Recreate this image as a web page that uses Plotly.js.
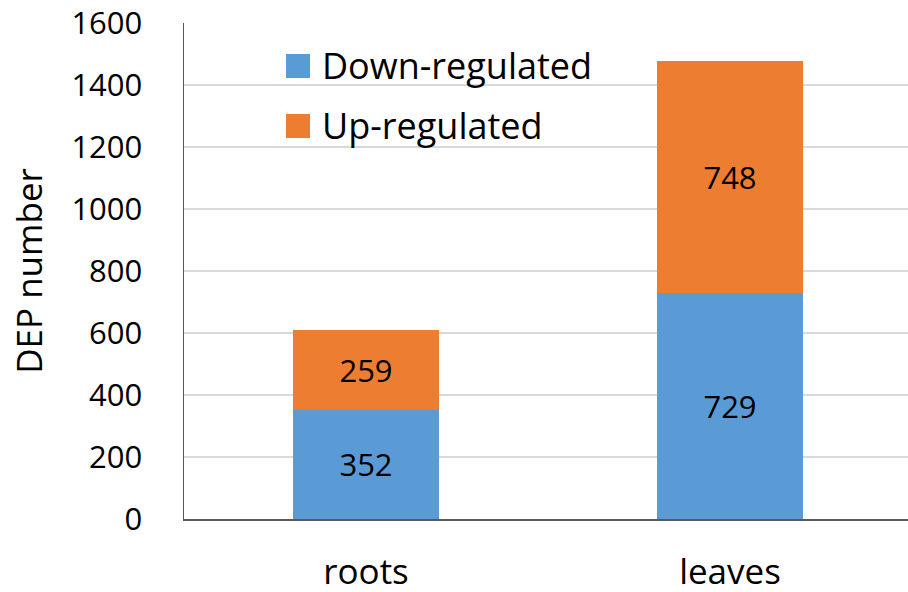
<!DOCTYPE html>
<html>
<head>
<meta charset="utf-8">
<script src="https://cdn.plot.ly/plotly-3.0.1.min.js"></script>
<style>html,body{margin:0;padding:0;background:#fff;}#chart{width:908px;height:592px;}</style>
</head>
<body>
<div id="chart"></div>
<script>
const categories = ["roots", "leaves"];
const downValues = [352, 729];
const upValues = [259, 748];
const seriesNames = ["Down-regulated", "Up-regulated"];
const seriesColors = ["#5B9BD5", "#ED7D31"];
const yTicks = [0, 200, 400, 600, 800, 1000, 1200, 1400, 1600];

const FONT = "Open Sans, sans-serif";

const traces = [downValues, upValues].map((vals, i) => ({
  type: "bar",
  name: seriesNames[i],
  x: categories,
  y: vals,
  width: 0.4,
  marker: {color: seriesColors[i], line: {width: 0}},
  text: vals.map(String),
  textposition: "inside",
  insidetextanchor: "middle",
  textangle: 0,
  textfont: {family: FONT, size: 31, color: "#000"},
  constraintext: "none",
  showlegend: false,
  hoverinfo: "skip"
}));

const shapes = [];
const annotations = [];
seriesNames.forEach((name, i) => {
  const yc = 66 + i * 60; // px from top
  shapes.push({type: "rect", xref: "paper", yref: "paper",
    x0: (286 - 184) / 724, x1: (310 - 184) / 724,
    y0: 1 - (yc + 12 - 23) / 496, y1: 1 - (yc - 12 - 23) / 496,
    fillcolor: seriesColors[i], line: {width: 0}});
  annotations.push({xref: "paper", yref: "paper",
    x: (320 - 184) / 724, y: 1 - (yc - 23) / 496,
    xanchor: "left", yanchor: "middle", showarrow: false,
    text: name, font: {family: FONT, size: 36, color: "#000"}});
});

const layout = {
  width: 908, height: 592,
  margin: {l: 184, r: 0, t: 23, b: 73},
  paper_bgcolor: "#fff", plot_bgcolor: "#fff",
  barmode: "stack",
  showlegend: false,
  font: {family: FONT, color: "#000"},
  xaxis: {
    type: "category",
    range: [-0.5, 1.489],
    showgrid: false,
    showline: true, linecolor: "#595959", linewidth: 1.5,
    ticks: "", ticklabelstandoff: 21,
    tickfont: {family: FONT, size: 35, color: "#000"},
    zeroline: false, fixedrange: true
  },
  yaxis: {
    range: [0, 1600],
    tickvals: yTicks,
    ticktext: yTicks.map(String),
    showgrid: true, gridcolor: "#d9d9d9", gridwidth: 1.3,
    showline: true, linecolor: "#595959", linewidth: 1.5,
    ticks: "", ticklabelstandoff: 34,
    tickfont: {family: FONT, size: 31, color: "#000"},
    zeroline: false,
    title: {text: "DEP number", font: {family: FONT, size: 35, color: "#000"}, standoff: 18},
    automargin: false, fixedrange: true
  },
  shapes: shapes,
  annotations: annotations
};

Plotly.newPlot("chart", traces, layout, {displayModeBar: false, staticPlot: true});
</script>
</body>
</html>
